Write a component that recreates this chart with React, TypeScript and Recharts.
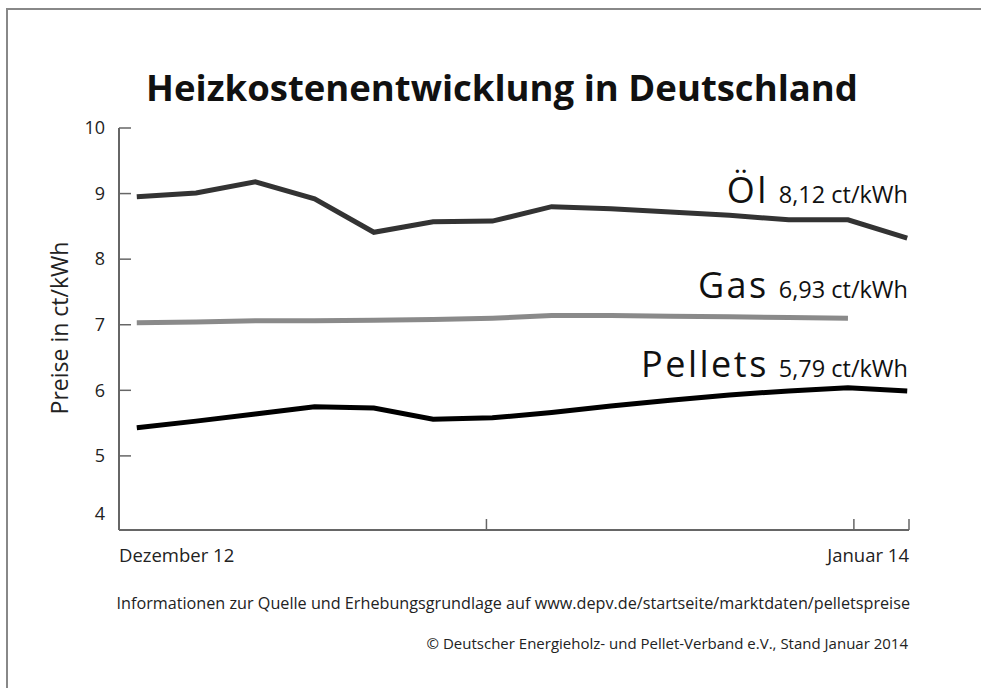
import React from "react";
import { LineChart, Line, XAxis, YAxis } from "recharts";

// Monatswerte Dez 2012 bis Jan 2014
const months = ["Dez 12", "Jan 13", "Feb 13", "Mär 13", "Apr 13", "Mai 13", "Jun 13", "Jul 13", "Aug 13", "Sep 13", "Okt 13", "Nov 13", "Dez 13", "Jan 14"];
const oel = [8.95, 9.01, 9.18, 8.92, 8.41, 8.57, 8.58, 8.8, 8.77, 8.72, 8.67, 8.6, 8.6, 8.32];
const gas = [7.03, 7.04, 7.06, 7.06, 7.07, 7.08, 7.1, 7.14, 7.14, 7.13, 7.12, 7.11, 7.1, null];
const pellets = [5.43, 5.53, 5.64, 5.75, 5.73, 5.56, 5.58, 5.66, 5.76, 5.85, 5.93, 5.99, 6.04, 5.99];

const yTicks = [4, 5, 6, 7, 8, 9, 10];
const xTicks = [-0.3, 5.9, 12.1, 13.03];
const xLabelFirst = "Dezember 12";
const xLabelLast = "Januar 14";

const series = [
  { name: "Öl", value: "8,12 ct/kWh" },
  { name: "Gas", value: "6,93 ct/kWh" },
  { name: "Pellets", value: "5,79 ct/kWh" },
];

const data = months.map((m, i) => ({ i, month: m, oel: oel[i], gas: gas[i], pellets: pellets[i] }));

const FONT = "'Open Sans', sans-serif";
const AXIS = "#666";

// tick marks point inward, so tickSize is 0 and the custom tick draws them
function YTick(props: any) {
  const { x, y, payload } = props;
  return (
    <g>
      {payload.value !== 4 && <line x1={x} x2={x + 12} y1={y} y2={y} stroke={AXIS} strokeWidth={1.5} />}
      <text x={x - 14} y={payload.value === 4 ? y - 8 : y} dy="0.35em" textAnchor="end" fontSize={18} fontFamily={FONT} fill="#222">
        {payload.value}
      </text>
    </g>
  );
}

function XTick(props: any) {
  const { x, y, payload, index } = props;
  const first = index === 0;
  const last = index === xTicks.length - 1;
  return (
    <g>
      {!first && <line x1={x} x2={x} y1={y - 11} y2={y} stroke={AXIS} strokeWidth={1.5} />}
      {first && (
        <text x={x} y={y + 32} textAnchor="start" fontSize={18.5} fontFamily={FONT} fill="#222">
          {xLabelFirst}
        </text>
      )}
      {last && (
        <text x={x} y={y + 32} textAnchor="end" fontSize={18.5} fontFamily={FONT} fill="#222">
          {xLabelLast}
        </text>
      )}
    </g>
  );
}

const labelTops = [168, 263, 342];

export default function App() {
  return (
    <div style={{ position: "absolute", left: 0, top: 0, width: 981, height: 688, background: "#fff", fontFamily: FONT }}>
      <div style={{ position: "absolute", left: 6, top: 8, width: 975, height: 680, borderTop: "2px solid #888", borderLeft: "2px solid #888" }} />
      <div style={{ position: "absolute", left: 0, width: 1004, top: 62, textAlign: "center", fontSize: 36.5, fontWeight: 700, color: "#111" }}>
        Heizkostenentwicklung in Deutschland
      </div>
      <div style={{ position: "absolute", left: 59, top: 328, transform: "translate(-50%, -50%) rotate(-90deg)", fontSize: 23, whiteSpace: "nowrap", color: "#222" }}>
        Preise in ct/kWh
      </div>
      <LineChart width={981} height={688} data={data} margin={{ top: 128, right: 72, bottom: 128, left: 59 }} style={{ position: "absolute", left: 0, top: 0 }}>
        <XAxis dataKey="i" type="number" domain={[-0.3, 13.03]} ticks={xTicks} interval={0} height={30} tickSize={0} tickMargin={0} tick={<XTick />} axisLine={{ stroke: AXIS, strokeWidth: 2 }} tickLine={false} />
        <YAxis domain={[3.87, 10]} ticks={yTicks} interval={0} width={60} tickSize={0} tickMargin={0} tick={<YTick />} axisLine={{ stroke: AXIS, strokeWidth: 2 }} tickLine={false} />
        <Line dataKey="oel" stroke="#333" strokeWidth={5} dot={false} isAnimationActive={false} />
        <Line dataKey="gas" stroke="#8a8a8a" strokeWidth={5} dot={false} isAnimationActive={false} />
        <Line dataKey="pellets" stroke="#000" strokeWidth={5} dot={false} isAnimationActive={false} />
      </LineChart>
      {series.map((s, k) => (
        <div key={s.name} style={{ position: "absolute", right: 73, top: labelTops[k], whiteSpace: "nowrap", color: "#111", lineHeight: "44px" }}>
          <span style={{ fontSize: 36, letterSpacing: 2.5 }}>{s.name}</span>
          <span style={{ fontSize: 23.5, marginLeft: 10 }}>{s.value}</span>
        </div>
      ))}
      <div style={{ position: "absolute", right: 71, top: 592, fontSize: 16.2, whiteSpace: "nowrap", color: "#222" }}>
        Informationen zur Quelle und Erhebungsgrundlage auf www.depv.de/startseite/marktdaten/pelletspreise
      </div>
      <div style={{ position: "absolute", right: 73, top: 633, fontSize: 15, whiteSpace: "nowrap", color: "#222" }}>
        © Deutscher Energieholz- und Pellet-Verband e.V., Stand Januar 2014
      </div>
    </div>
  );
}
